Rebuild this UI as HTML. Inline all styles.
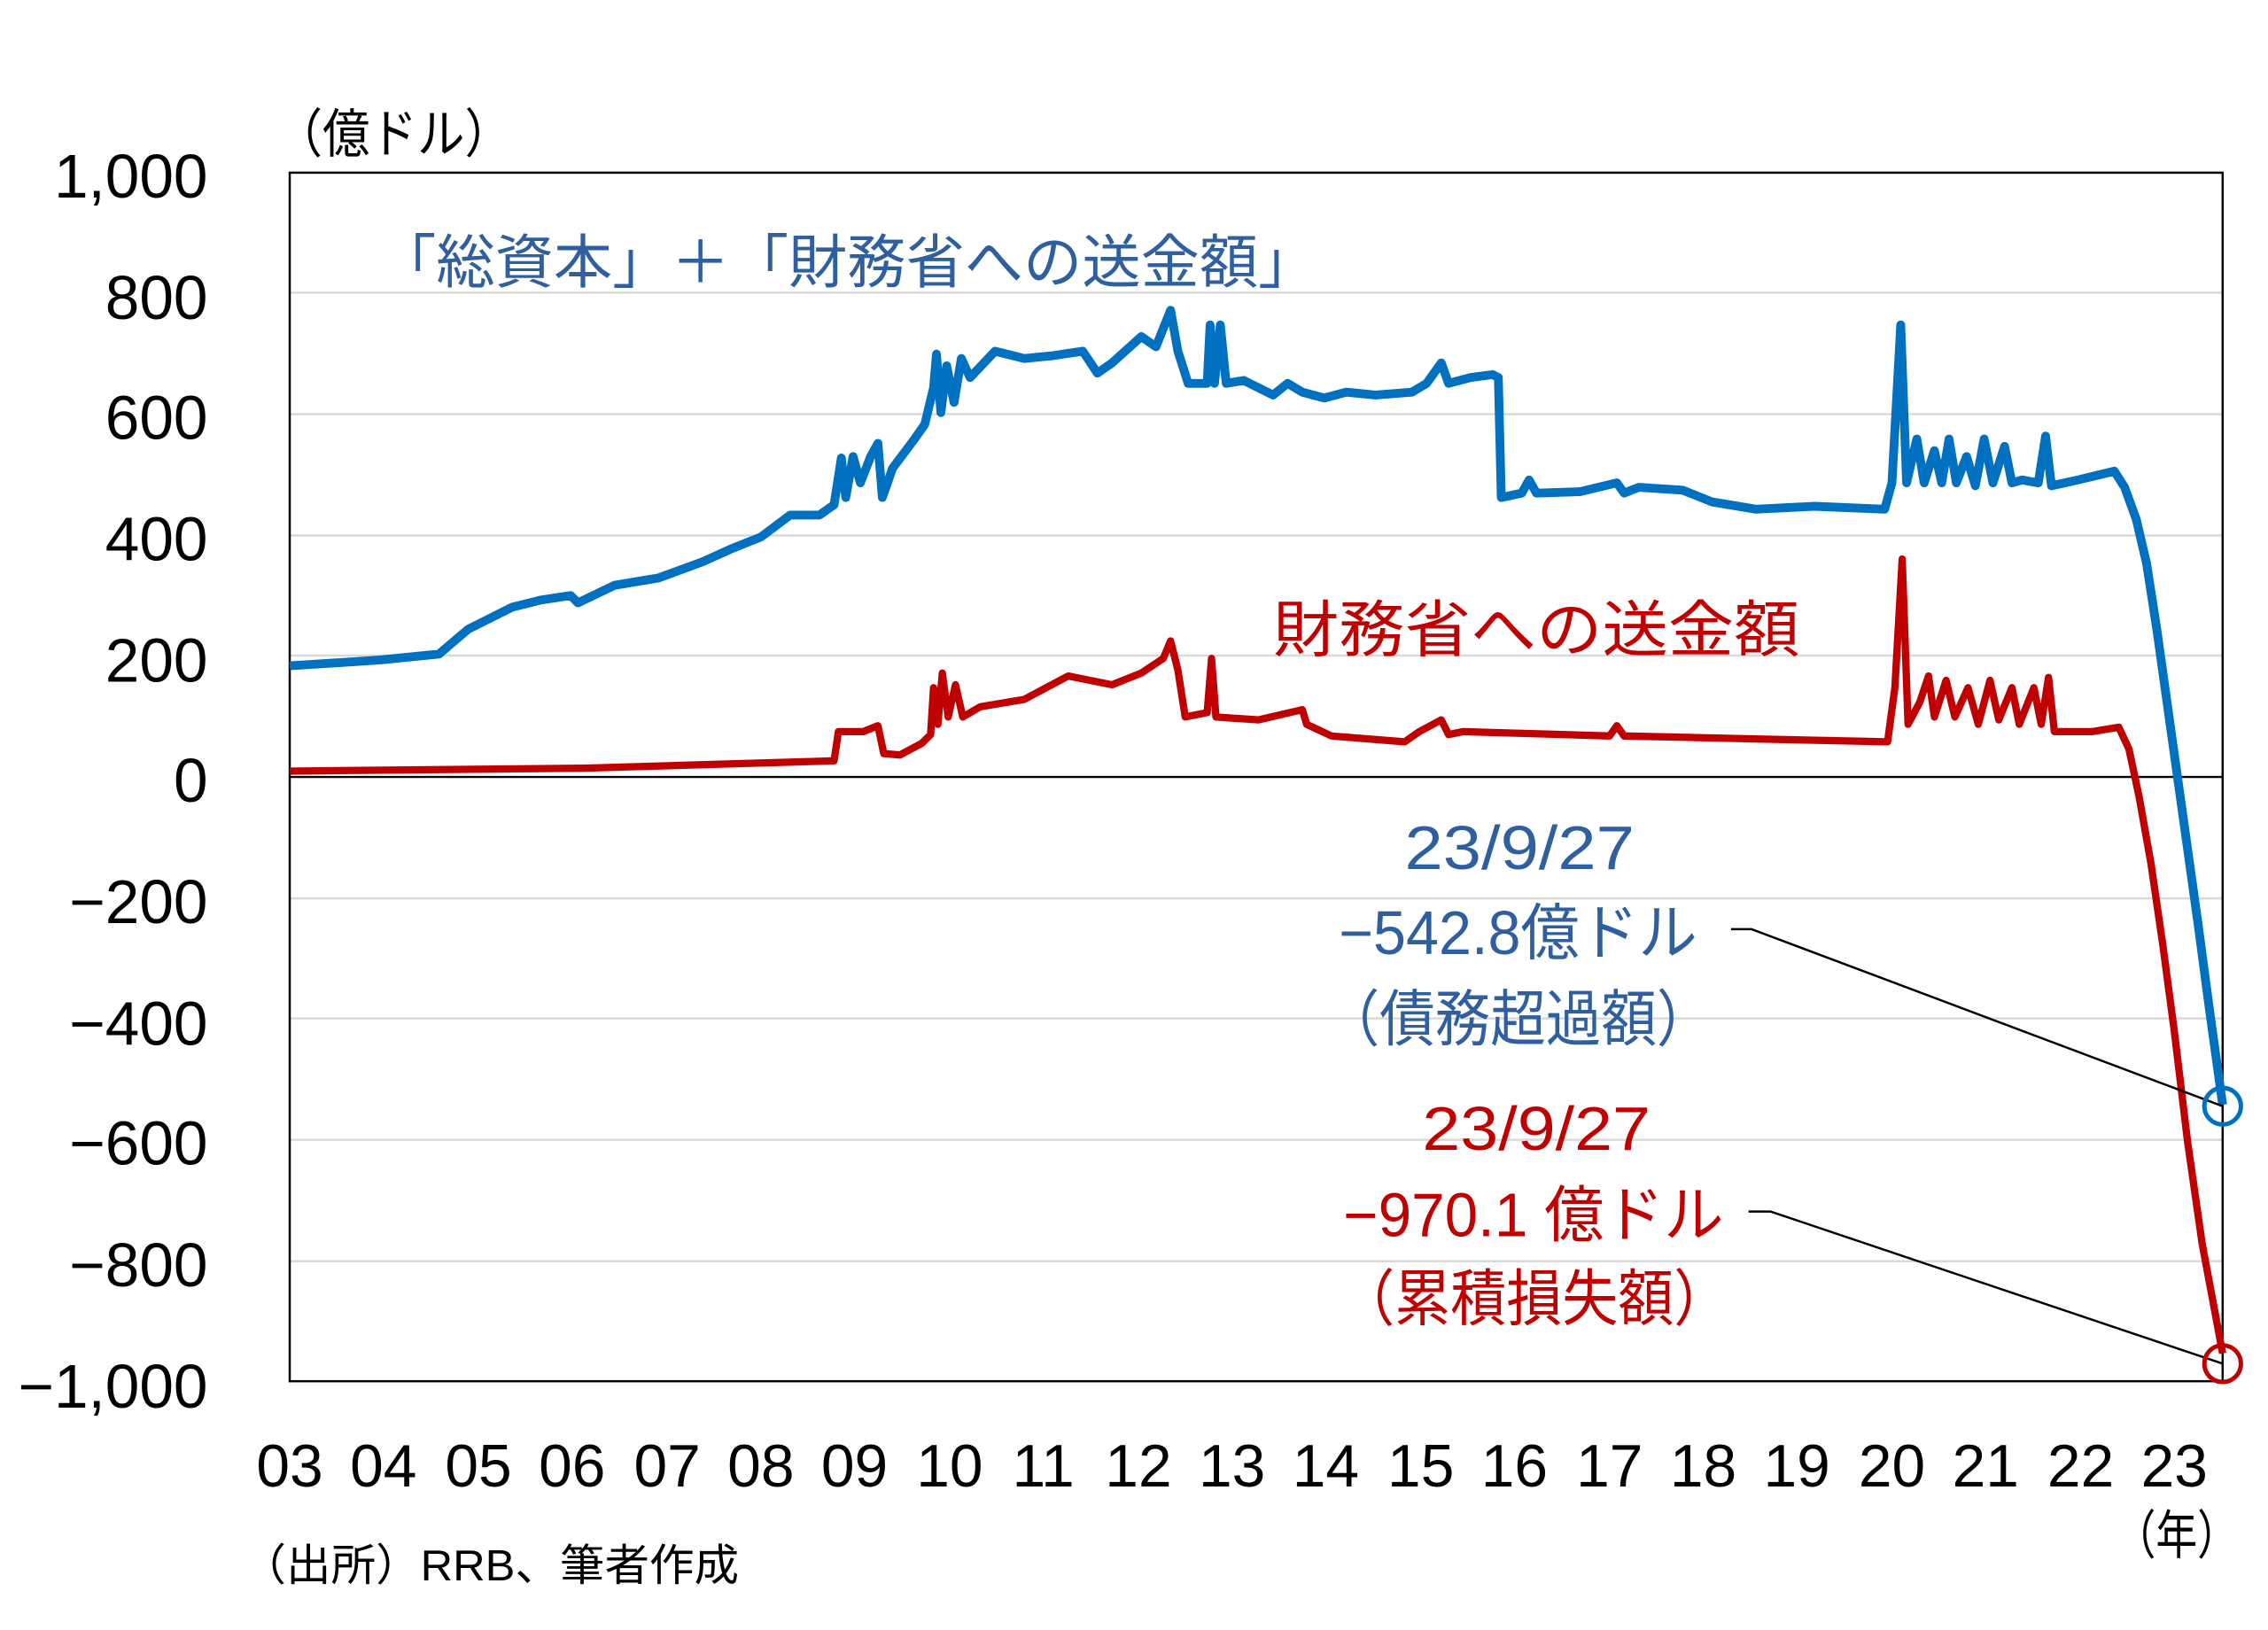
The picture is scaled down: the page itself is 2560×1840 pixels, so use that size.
<!DOCTYPE html>
<html><head><meta charset="utf-8"><style>
html,body{margin:0;padding:0;background:#fff}
svg{display:block}
text{font-family:"Liberation Sans","Noto Sans CJK JP",sans-serif}
</style></head><body>
<svg width="2560" height="1840" viewBox="0 0 1550 1114" xmlns="http://www.w3.org/2000/svg">
<rect width="1550" height="1114" fill="#fff"/>
<g stroke="#d9d9d9" stroke-width="1.5">
<line x1="198" y1="200" x2="1519" y2="200"/>
<line x1="198" y1="283" x2="1519" y2="283"/>
<line x1="198" y1="366" x2="1519" y2="366"/>
<line x1="198" y1="448" x2="1519" y2="448"/>
<line x1="198" y1="614" x2="1519" y2="614"/>
<line x1="198" y1="696" x2="1519" y2="696"/>
<line x1="198" y1="779" x2="1519" y2="779"/>
<line x1="198" y1="862" x2="1519" y2="862"/>
</g>
<line x1="198" y1="531" x2="1519" y2="531" stroke="#000" stroke-width="1.5"/>
<rect x="198" y="118" width="1321" height="826" fill="none" stroke="#000" stroke-width="1.5"/>
<g font-size="42" text-anchor="end" fill="#000">
<text x="142" y="135">1,000</text>
<text x="142" y="218">800</text>
<text x="142" y="300">600</text>
<text x="142" y="383">400</text>
<text x="142" y="466">200</text>
<text x="142" y="548">0</text>
<text x="142" y="631">−200</text>
<text x="142" y="714">−400</text>
<text x="142" y="796">−600</text>
<text x="142" y="879">−800</text>
<text x="142" y="962">−1,000</text>
</g>
<g font-size="41" text-anchor="middle" fill="#000">
<text x="198" y="1016">03</text><text x="262" y="1016">04</text><text x="327" y="1016">05</text><text x="391" y="1016">06</text><text x="456" y="1016">07</text><text x="520" y="1016">08</text><text x="584" y="1016">09</text><text x="649" y="1016">10</text><text x="713" y="1016">11</text><text x="778" y="1016">12</text><text x="842" y="1016">13</text><text x="906" y="1016">14</text><text x="971" y="1016">15</text><text x="1035" y="1016">16</text><text x="1100" y="1016">17</text><text x="1164" y="1016">18</text><text x="1228" y="1016">19</text><text x="1293" y="1016">20</text><text x="1357" y="1016">21</text><text x="1422" y="1016">22</text><text x="1486" y="1016">23</text>
</g>
<text x="1445" y="1062" font-size="36" textLength="85" lengthAdjust="spacingAndGlyphs">（年）</text>
<text x="188" y="104" font-size="36" textLength="162" lengthAdjust="spacingAndGlyphs">（億ドル）</text>
<text x="165" y="1080" font-size="30" textLength="340" lengthAdjust="spacingAndGlyphs">（出所）RRB、筆者作成</text>
<polyline fill="none" stroke="#0070c0" stroke-width="6" stroke-linejoin="round" points="198,455 230,453 260,451 300,447 320,430 350,415 370,410 390,407 395,412 420,400 450,395 480,384 500,375 520,367 540,352 560,352 570,345 575,313 578,340 583,312 588,330 595,312 600,303 603,340 610,320 625,300 632,290 638,265 640,242 643,282 647,250 652,275 657,245 663,258 680,240 700,245 720,243 740,240 750,255 760,248 780,230 790,237 800,212 805,240 812,262 825,262 827,222 830,262 834,222 838,262 850,260 870,270 880,262 890,268 905,272 920,268 940,270 965,268 975,262 985,248 990,262 1005,258 1020,256 1024,258 1026,340 1040,337 1045,328 1050,337 1080,336 1105,330 1110,337 1120,333 1150,335 1170,343 1200,348 1240,346 1288,348 1293,330 1299,222 1303,330 1310,300 1315,330 1322,308 1327,330 1332,300 1337,330 1344,312 1350,332 1356,300 1362,330 1370,305 1375,330 1382,328 1393,330 1398,298 1402,332 1420,328 1445,322 1452,333 1460,355 1467,385 1474,430 1481,480 1488,530 1495,580 1502,630 1510,690 1519,755"/>
<polyline fill="none" stroke="#c00000" stroke-width="5" stroke-linejoin="round" points="198,527 300,526 400,525 500,522 570,520 573,500 580,500 590,500 600,496 604,515 615,516 630,508 636,502 638,470 641,495 644,460 648,490 653,468 658,490 670,483 700,478 730,462 760,468 780,460 795,450 800,438 805,458 810,490 825,487 828,450 831,490 860,492 890,485 893,495 910,503 960,507 970,500 985,492 990,502 1000,500 1100,503 1105,496 1110,503 1200,505 1290,507 1295,470 1300,382 1304,495 1312,480 1318,462 1322,490 1330,465 1336,490 1345,470 1352,495 1360,465 1366,492 1375,470 1380,495 1390,470 1395,495 1400,463 1404,500 1430,500 1448,497 1455,512 1462,545 1470,590 1478,645 1486,705 1495,780 1505,850 1519,925"/>
<g stroke="#000" stroke-width="1.5" fill="none">
<polyline points="1183,635 1197,635 1519,756"/>
<polyline points="1195,828 1210,828 1519,932"/>
</g>
<circle cx="1519" cy="756" r="12.5" fill="none" stroke="#0070c0" stroke-width="3"/>
<circle cx="1519" cy="932" r="12.5" fill="none" stroke="#c00000" stroke-width="3"/>
<text x="258" y="193" font-size="40" fill="#2f5f9e" textLength="642" lengthAdjust="spacingAndGlyphs">「総資本」＋「財務省への送金額」</text>
<text x="870" y="445" font-size="42" fill="#c00000" textLength="360" lengthAdjust="spacingAndGlyphs">財務省への送金額</text>
<g font-size="42" fill="#2f5f9e">
<text x="960" y="594" textLength="157" lengthAdjust="spacingAndGlyphs">23/9/27</text>
<text x="915" y="652" textLength="245" lengthAdjust="spacingAndGlyphs">−542.8億ドル</text>
<text x="905" y="711" textLength="265" lengthAdjust="spacingAndGlyphs">（債務超過額）</text>
</g>
<g font-size="42" fill="#c00000">
<text x="972" y="786" textLength="156" lengthAdjust="spacingAndGlyphs">23/9/27</text>
<text x="918" y="845" textLength="260" lengthAdjust="spacingAndGlyphs">−970.1 億ドル</text>
<text x="915" y="902" textLength="267" lengthAdjust="spacingAndGlyphs">（累積損失額）</text>
</g>
</svg>
</body></html>
